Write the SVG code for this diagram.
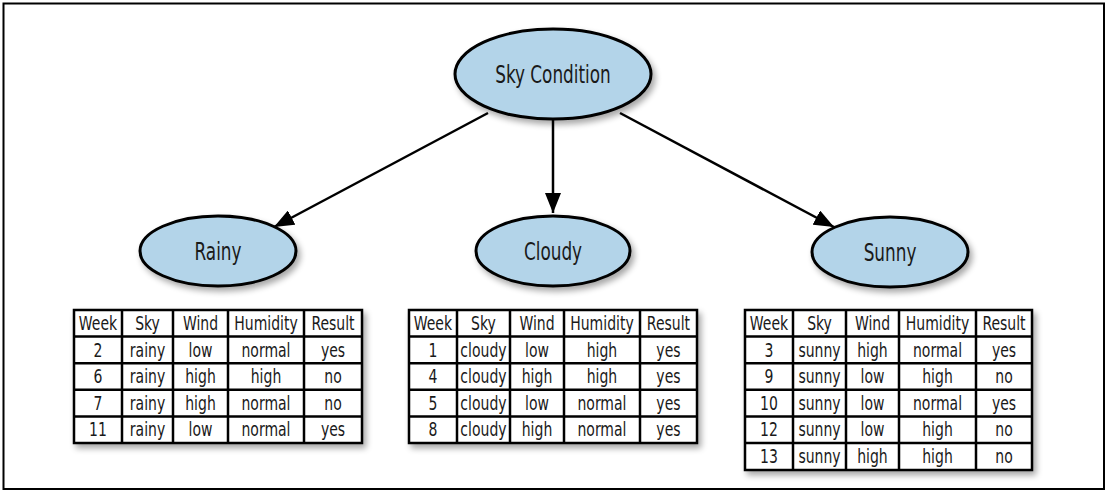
<svg xmlns="http://www.w3.org/2000/svg" width="1109" height="495" viewBox="0 0 1109 495">
<defs>
<filter id="sh" x="-20%" y="-20%" width="150%" height="160%">
<feGaussianBlur in="SourceAlpha" stdDeviation="3"/>
<feOffset dx="3" dy="4" result="b"/>
<feComponentTransfer><feFuncA type="linear" slope="0.35"/></feComponentTransfer>
<feMerge><feMergeNode/><feMergeNode in="SourceGraphic"/></feMerge>
</filter>
<marker id="arr" viewBox="0 0 20 16" refX="20" refY="8" markerWidth="20" markerHeight="16" markerUnits="userSpaceOnUse" orient="auto">
<path d="M0,0 L20,8 L0,16 z" fill="#000"/>
</marker>
</defs>
<style>
.node{fill:#b3d4e9;stroke:#000;stroke-width:3}
.lbl{font-family:"DejaVu Sans Condensed","Liberation Sans",sans-serif;font-stretch:condensed;font-size:25px;text-anchor:middle;dominant-baseline:central;fill:#1a1a1a}
.edge{stroke:#000;stroke-width:2.5;fill:none}
.grid{stroke:#000;stroke-width:2.5;fill:#fff}
.t{font-family:"DejaVu Sans Condensed","Liberation Sans",sans-serif;font-stretch:condensed;font-size:19px;text-anchor:middle;fill:#1a1a1a}
</style>
<rect x="3.5" y="3.5" width="1100.5" height="485.5" fill="#fff" stroke="#000" stroke-width="2"/>

<g id="connectors">
<line class="edge" x1="488" y1="113" x2="274" y2="227" marker-end="url(#arr)"/>
<line class="edge" x1="553" y1="119" x2="553" y2="213" marker-end="url(#arr)"/>
<line class="edge" x1="620" y1="113" x2="834" y2="227" marker-end="url(#arr)"/>
</g>

<g id="sky-condition">
<ellipse class="node" cx="553" cy="74" rx="98" ry="45" filter="url(#sh)"/>
<text class="lbl" transform="translate(553,74) scale(0.75,1)">Sky Condition</text>
</g>
<g id="rainy">
<ellipse class="node" cx="218" cy="251" rx="78" ry="35" filter="url(#sh)"/>
<text class="lbl" transform="translate(218,251) scale(0.75,1)">Rainy</text>
</g>
<g id="cloudy">
<ellipse class="node" cx="553" cy="251" rx="77" ry="35" filter="url(#sh)"/>
<text class="lbl" transform="translate(553,251) scale(0.75,1)">Cloudy</text>
</g>
<g id="sunny">
<ellipse class="node" cx="890" cy="252" rx="78" ry="35" filter="url(#sh)"/>
<text class="lbl" transform="translate(890,252) scale(0.75,1)">Sunny</text>
</g>

<g id="table-rainy">
<rect class="grid" x="74" y="310" width="288" height="133" filter="url(#sh)"/>
<path class="grid" d="M122,310V443M173,310V443M228,310V443M304,310V443M74,336.6H362M74,363.2H362M74,389.8H362M74,416.4H362"/>
<g class="t" transform="scale(0.82,1)">
<text x="119.5" y="330">Week</text><text x="179.9" y="330">Sky</text><text x="244.5" y="330">Wind</text><text x="324.4" y="330">Humidity</text><text x="406.1" y="330">Result</text>
<text x="119.5" y="357">2</text><text x="179.9" y="357">rainy</text><text x="244.5" y="357">low</text><text x="324.4" y="357">normal</text><text x="406.1" y="357">yes</text>
<text x="119.5" y="383">6</text><text x="179.9" y="383">rainy</text><text x="244.5" y="383">high</text><text x="324.4" y="383">high</text><text x="406.1" y="383">no</text>
<text x="119.5" y="410">7</text><text x="179.9" y="410">rainy</text><text x="244.5" y="410">high</text><text x="324.4" y="410">normal</text><text x="406.1" y="410">no</text>
<text x="119.5" y="436">11</text><text x="179.9" y="436">rainy</text><text x="244.5" y="436">low</text><text x="324.4" y="436">normal</text><text x="406.1" y="436">yes</text>
</g>
</g>

<g id="table-cloudy">
<rect class="grid" x="409" y="310" width="288" height="133" filter="url(#sh)"/>
<path class="grid" d="M457,310V443M510,310V443M564,310V443M640,310V443M409,336.6H697M409,363.2H697M409,389.8H697M409,416.4H697"/>
<g class="t" transform="scale(0.82,1)">
<text x="528.0" y="330">Week</text><text x="589.6" y="330">Sky</text><text x="654.9" y="330">Wind</text><text x="734.1" y="330">Humidity</text><text x="815.2" y="330">Result</text>
<text x="528.0" y="357">1</text><text x="589.6" y="357">cloudy</text><text x="654.9" y="357">low</text><text x="734.1" y="357">high</text><text x="815.2" y="357">yes</text>
<text x="528.0" y="383">4</text><text x="589.6" y="383">cloudy</text><text x="654.9" y="383">high</text><text x="734.1" y="383">high</text><text x="815.2" y="383">yes</text>
<text x="528.0" y="410">5</text><text x="589.6" y="410">cloudy</text><text x="654.9" y="410">low</text><text x="734.1" y="410">normal</text><text x="815.2" y="410">yes</text>
<text x="528.0" y="436">8</text><text x="589.6" y="436">cloudy</text><text x="654.9" y="436">high</text><text x="734.1" y="436">normal</text><text x="815.2" y="436">yes</text>
</g>
</g>

<g id="table-sunny">
<rect class="grid" x="745" y="310" width="287" height="160" filter="url(#sh)"/>
<path class="grid" d="M793,310V470M846,310V470M899,310V470M976,310V470M745,336.6H1032M745,363.2H1032M745,389.8H1032M745,416.4H1032M745,443H1032"/>
<g class="t" transform="scale(0.82,1)">
<text x="937.8" y="330">Week</text><text x="999.4" y="330">Sky</text><text x="1064.0" y="330">Wind</text><text x="1143.3" y="330">Humidity</text><text x="1224.4" y="330">Result</text>
<text x="937.8" y="357">3</text><text x="999.4" y="357">sunny</text><text x="1064.0" y="357">high</text><text x="1143.3" y="357">normal</text><text x="1224.4" y="357">yes</text>
<text x="937.8" y="383">9</text><text x="999.4" y="383">sunny</text><text x="1064.0" y="383">low</text><text x="1143.3" y="383">high</text><text x="1224.4" y="383">no</text>
<text x="937.8" y="410">10</text><text x="999.4" y="410">sunny</text><text x="1064.0" y="410">low</text><text x="1143.3" y="410">normal</text><text x="1224.4" y="410">yes</text>
<text x="937.8" y="436">12</text><text x="999.4" y="436">sunny</text><text x="1064.0" y="436">low</text><text x="1143.3" y="436">high</text><text x="1224.4" y="436">no</text>
<text x="937.8" y="463">13</text><text x="999.4" y="463">sunny</text><text x="1064.0" y="463">high</text><text x="1143.3" y="463">high</text><text x="1224.4" y="463">no</text>
</g>
</g>
</svg>
